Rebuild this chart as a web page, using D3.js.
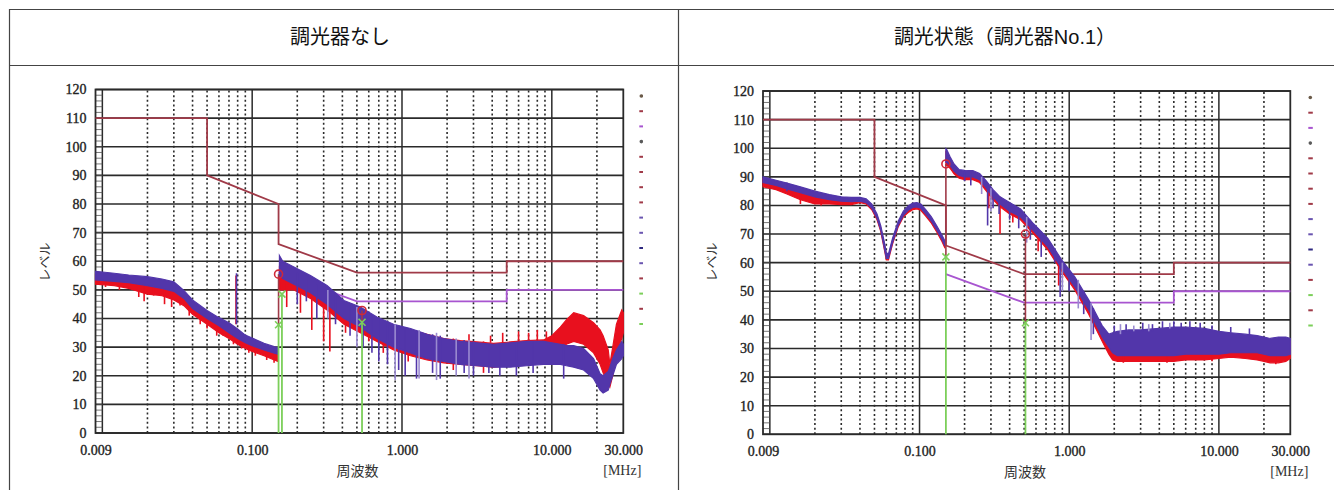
<!DOCTYPE html>
<html><head><meta charset="utf-8">
<script src="https://cdn.jsdelivr.net/npm/d3@7"></script>
<style>html,body{margin:0;padding:0;background:#fff;}svg{display:block;}</style>
</head><body>
<script>
// ---------- data ----------
const headerTitles = ["調光器なし", "調光状態（調光器No.1）"];
const yTickValues = [0,10,20,30,40,50,60,70,80,90,100,110,120];
const xTickValues = [0.009, 0.1, 1, 10, 30];
const xTickLabels = ["0.009", "0.100", "1.000", "10.000", "30.000"];
const xAxisTitle = "周波数";
const xUnit = "[MHz]";
const yAxisTitle = "レベル";

// limit lines (QP and AV)
const qpLimitF = [0.009, 0.05, 0.05, 0.15, 0.15, 0.5, 5, 5, 30];
const qpLimitV = [110, 110, 90, 80, 66, 56, 56, 60, 60];
const avLimitF = [0.15, 0.5, 5, 5, 30];
const avLimitV = [56, 46, 46, 50, 50];

// ---- left chart: 調光器なし ----
const L1_freq   = [0.009,0.012,0.015,0.02,0.025,0.03,0.035,0.04,0.05,0.06,0.07,0.08,0.09,0.1,0.12,0.148];
const L1_blueHi = [56.5,55.8,55.2,54.6,53.8,52.8,49.8,46.5,42.8,40.3,38.5,36.3,34.2,33.2,31.3,29.8];
const L1_blueLo = [53.5,53,52.5,51.5,50.5,49.5,47,43.5,40,37.5,35,33,31.5,30.5,29,27.5];
const L1_redHi  = [55.5,55,54.5,53.5,53,52,48.5,45.5,42,39.5,37.5,35.5,33.5,32.3,30.3,28.5];
const L1_redLo  = [52,51.5,50.5,48.5,48,46.5,44.5,41.5,38,35,33,31,29.5,28.5,27,25];

const L2_freq   = [0.152,0.16,0.19,0.245,0.316,0.41,0.527,0.68,0.88,1.14,1.47,1.9,2.45,3.16,4.08,5.27,6.8,8.8,10,11.4,12.5,14,16.3,19,21,22,23.8,24.4,25.5,27,29.3,30];
const L2_blueHi = [62,60,58,55,51.5,46.3,44,40.5,38,36.5,34.5,33,32,31.5,31,31.5,32,32,31.5,31,30.5,30.5,29.5,26,20.7,20,21.5,23,26,29,32,31];
const L2_blueLo = [55,54,52,49,45,40,37,33,30,28,26,25,24,23.5,23,23,23.5,24,24,24,23.5,23,22,19,15,14,15,17,20,24,26,27];
const L2_redHi  = [58,57,56,53,49,45,42,39,37.5,36,34.5,33,32.3,31.8,31.3,31.8,32.3,32.5,34,37,39.5,42,41,38.5,36,34,29,24,30,38,43,42];
const L2_redLo  = [50,50,50,47,43,38,35,32,29,27,25.5,24.5,24,23.5,23,23.5,24,25,26,29,31,32,31,28,24,21,17,16,20,28,33,35];

// spikes: [freq, from, to]
const L_redSpikes = [[0.0105,55,51],[0.013,54.5,50],[0.0175,53.5,47.5],[0.019,53,46],[0.022,52.5,48],[0.026,51.5,45],[0.029,51,44],[0.033,49.5,44.5],[0.038,46,41],[0.045,43,38],[0.05,41.5,36.5],[0.058,39,34],[0.064,37.5,34],[0.075,35,31],[0.078,38,55],[0.085,33.5,29.5],[0.095,32.5,28],[0.105,31.5,27],[0.125,30,25.5],[0.14,29,24.5],
  [0.17,57,44],[0.21,55,42],[0.25,53,36],[0.3,50,32],[0.33,48,28.5],[0.42,45,35],[0.6,41,32],[0.75,39,28],[1.1,36,25],[2.2,33,22],[3.5,32,21],[2.8,32,34.5],[3.9,31.5,34],[4.7,31.5,35],[6,32,35.5],[7,32,35],[8,32.5,36],[9.2,32.5,35.5]];
const L_blueSpikes = [[0.0786,38,55.8],[0.2,56,45],[0.23,55,46],[0.27,52,40],[0.36,49,38],[0.45,45,34],[0.55,43,30],[0.63,41,28],[0.7,40,25],[0.8,39,24],[0.95,37.5,22],[1.05,37,20],[1.25,36,19],[1.6,34.5,21],[1.8,34,19],[2.6,32.5,21],[3,32,20],[3.8,31,21],[4.5,31,20],[5.8,31.5,20],[7.5,32,21],[12,31,19]];
const L_lavSpikes = [[0.32,50,40],[0.5,44,30],[0.9,38,18.5],[1.3,36,19],[1.7,35,18.5],[2.3,33,20],[2.8,32.5,19]];
const L_qpMarks = [[0.150,55.5],[0.541,42.8]];
const L_avMarks = [[0.150,37.8],[0.158,48.5],[0.541,38.7]];

// ---- right chart: 調光状態（調光器No.1） ----
const R1_freq   = [0.009,0.011,0.013,0.016,0.02,0.025,0.03,0.035,0.04,0.044,0.048,0.052,0.055,0.058,0.06,0.062,0.066,0.072,0.078,0.084,0.09,0.096,0.102,0.11,0.12,0.13,0.14,0.148];
const R1_blueHi = [90,88.8,87.8,86.5,85,83.8,83,82.8,82.8,82.3,80.5,77,73,67.5,63.5,63,68.5,74.5,78,79.8,80.8,81,80.5,78.5,76,73,70,67.5];
const R1_blueLo = [88,87,85.8,84.5,83,82,81.5,81.3,81.5,81,79,75.5,71.5,65.5,61.5,61.5,67,73,76.5,78.3,79.3,79.5,79,77,74.5,71.5,68.5,65.8];
const R1_redHi  = [89.3,88,87,85.5,84,83,82.3,82,82,81.5,79.8,76.3,72.3,66.8,62.8,62.3,67.8,73.8,77.3,79,80,80.2,79.8,77.8,75.2,72.2,69.2,66.8];
const R1_redLo  = [86.5,85.5,84,82,80.5,80.5,80.3,80.3,81,80.5,78.5,75,71,65,61,61,66.5,72.5,76,77.5,78.5,78.8,78.3,76.3,73.8,70.8,67.8,65];

const R2_freq   = [0.15,0.152,0.16,0.17,0.184,0.2,0.227,0.252,0.28,0.31,0.345,0.4,0.473,0.58,0.72,0.89,1.09,1.35,1.66,1.84,1.95,2.1,2.5,3,4,5,6,8,10,12,15,18,20,22,25,28,30];
const R2_blueHi = [99.8,99.5,97,94.5,92.5,92.3,92.2,91.2,88.5,85.5,83,81,78.8,73.5,68.5,61,55,47,38,35,35.5,36,36.5,36.5,37,37.5,37.5,37,36,35.5,35,34.5,34,33.5,34,34,33.5];
const R2_blueLo = [95,95,94,92,90.5,90,90,89,86,83,80.5,78,76,71,65.5,58,51.5,43.5,34,30.5,28.5,27.5,27.5,27.5,27.5,27.5,28,28,28,28.5,28.5,28.5,28,27.5,27.5,27.5,28];
const R2_redHi  = [98.8,98.5,96,93.5,91.5,91.3,91.2,90.2,87.5,84.5,82,80,77.8,72.5,67.5,60,54,46,37,34,34.5,35,35.5,35.5,36,36.5,36.5,36,35,34.5,34,33.5,33,32.5,33,33,32.5];
const R2_redLo  = [94,94,93,91,89.5,89,89,88,85,82,79.5,77,75,70,64.5,57,50.5,42,32.5,28,26,25.5,25.5,25.5,25.5,25.5,26,26,26.5,27,26.5,26,25.5,25,25,25.5,26.5];

const R_redSpikes = [[0.016,85,80.5],[0.022,84,80],[0.028,83,80.5],[0.033,82.8,80.5],[0.29,87,79],[0.345,83,70],[0.42,80,74],[0.62,72,64],[0.85,62,52],[2.3,29,25],[4.5,28,25],[9,28,25.5],[24,27,24.5]];
const R_blueSpikes = [[0.013,88,85],[0.2,92,88.5],[0.22,92,87],[0.285,86,73],[0.31,84.5,79],[0.34,83,77],[0.4,80.5,75],[0.46,79,72],[0.55,75,68],[0.65,71,62],[0.8,65,60],[0.87,60.5,48],[1.0,58,50],[1.25,50,42],[1.45,44,35],
  [2.0,35,38],[2.4,36,38.5],[3.1,36,39],[3.6,36,38.5],[4.2,37,39.5],[5.0,37.5,39.5],[5.6,37.5,39],[6.4,37.5,39.5],[7.5,37,39],[9,36,38],[12,35.5,37.5],[16,35,37]];
const R_lavSpikes = [[0.26,90,84],[0.3,86,78],[0.52,76,67],[0.9,60,50],[1.15,54,44],[1.4,46,33],[2.2,35,38.5],[2.7,36,38],[3.4,36,38.5],[4.7,37,39]];
const R_qpMarks = [[0.150,94.5],[0.51,70]];
const R_avMarks = [[0.150,62],[0.51,39]];

// legend column swatches (kind, colour)
const legendKinds  = ["dot","dash","dash","dot","dash","dash","dash","dash","dash","dash","dash","dash","dash","dash","dash","dash"];
const legendColors = ["#6a5a48","#a03a48","#a855d0","#5a5a5a","#a03a48","#a03a48","#a03a48","#a03a48","#6a55b0","#6a55b0","#2e2880","#6a55b0","#a03a48","#7ccf5a","#a03a48","#7ccf5a"];

// ---------- drawing ----------
const W = 1334, H = 490;
const C = {red:"#e8101e", blue:"#5236aa", lav:"#9a8ad0", qp:"#a03a48", av:"#a855d0", green:"#7ccf5a", mark:"#d02838", grid:"#2a2a2a"};

const svg = d3.select("body").append("svg").attr("width", W).attr("height", H)
  .style("font-family", "'Liberation Sans','Noto Sans CJK JP',sans-serif");

// table
const tb = svg.append("g").attr("stroke", "#444").attr("stroke-width", 1.2).attr("fill", "none");
tb.append("line").attr("x1", 9).attr("x2", W).attr("y1", 9.5).attr("y2", 9.5);
tb.append("line").attr("x1", 9).attr("x2", W).attr("y1", 65.5).attr("y2", 65.5);
tb.append("line").attr("x1", 9.5).attr("x2", 9.5).attr("y1", 9).attr("y2", H);
tb.append("line").attr("x1", 678.5).attr("x2", 678.5).attr("y1", 9).attr("y2", H);
svg.selectAll("text.hdr").data(headerTitles).join("text").attr("class", "hdr")
  .attr("x", (d, i) => i === 0 ? 340 : 1005).attr("y", 44).attr("text-anchor", "middle")
  .attr("font-size", 20).attr("fill", "#111").text(d => d);

function zip(f, hi, lo) { return f.map((v, i) => ({f: v, hi: hi[i], lo: lo[i]})); }

function drawChart(cfg) {
  const x = d3.scaleLog().domain([0.009, 30]).range(cfg.xr);
  const y = d3.scaleLinear().domain([0, 120]).range(cfg.yr);
  const g = svg.append("g");
  if (cfg.clipX) {
    svg.append("clipPath").attr("id", cfg.id).append("rect").attr("x", 0).attr("y", 0).attr("width", cfg.clipX).attr("height", H);
    g.attr("clip-path", `url(#${cfg.id})`);
  }
  const [x0, x1] = cfg.xr, [yb, yt] = cfg.yr;

  // vertical grid
  const vlines = [];
  for (let n = -2; n <= 1; n++) for (let k = 1; k <= 9; k++) {
    const f = +(k * Math.pow(10, n)).toPrecision(3);
    if (f > 0.009 && f < 30) vlines.push({f, solid: k === 1});
  }
  g.selectAll("line.vg").data(vlines).join("line").attr("class", "vg")
    .attr("x1", d => x(d.f)).attr("x2", d => x(d.f)).attr("y1", yb).attr("y2", yt)
    .attr("stroke", C.grid).attr("stroke-width", d => d.solid ? 1.5 : 1.6)
    .attr("stroke-dasharray", d => d.solid ? null : "2,2.6");
  // horizontal grid
  g.selectAll("line.hg").data(yTickValues).join("line").attr("class", "hg")
    .attr("x1", x0).attr("x2", x1).attr("y1", d => y(d)).attr("y2", d => y(d))
    .attr("stroke", C.grid).attr("stroke-width", 1.6);
  // minor ruler ticks between 0.009 and 0.01
  g.selectAll("line.mt").data(d3.range(0, 121, 2)).join("line").attr("class", "mt")
    .attr("x1", x0).attr("x2", x(0.01)).attr("y1", d => y(d)).attr("y2", d => y(d))
    .attr("stroke", "#555").attr("stroke-width", 0.8);
  // frame
  g.append("rect").attr("x", x0).attr("y", yt).attr("width", x1 - x0).attr("height", yb - yt)
    .attr("fill", "none").attr("stroke", C.grid).attr("stroke-width", 1.8);

  // limit lines
  const lim = d3.line().x(d => x(d[0])).y(d => y(d[1]));
  g.append("path").attr("d", lim(qpLimitF.map((f, i) => [f, qpLimitV[i]])))
    .attr("fill", "none").attr("stroke", C.qp).attr("stroke-width", 1.8);
  g.append("path").attr("d", lim(avLimitF.map((f, i) => [f, avLimitV[i]])))
    .attr("fill", "none").attr("stroke", C.av).attr("stroke-width", 1.8);

  // traces
  const area = d3.area().x(d => x(d.f)).y0(d => y(d.lo)).y1(d => y(d.hi));
  const drawBand = (data, col) => {
    g.append("path").attr("d", area(data)).attr("fill", col).attr("stroke", col).attr("stroke-width", 1.2);
  };
  const drawSpikes = (data, col, w) => {
    g.append("g").selectAll("line").data(data).join("line")
      .attr("x1", d => x(d[0])).attr("x2", d => x(d[0])).attr("y1", d => y(d[1])).attr("y2", d => y(d[2]))
      .attr("stroke", col).attr("stroke-width", w);
  };
  cfg.segs.forEach(s => drawBand(zip(s.f, s.rh, s.rl), C.red));
  drawSpikes(cfg.redSpikes, C.red, 1.6);
  cfg.segs.forEach(s => drawBand(zip(s.f, s.bh, s.bl), C.blue));
  drawSpikes(cfg.lavSpikes, C.lav, 1.6);
  drawSpikes(cfg.blueSpikes, C.blue, 1.6);

  // measurement markers
  cfg.av.forEach(a => {
    g.append("line").attr("x1", x(a[0])).attr("x2", x(a[0])).attr("y1", y(0)).attr("y2", y(a[1]))
      .attr("stroke", C.green).attr("stroke-width", 1.8);
  });
  cfg.qp.forEach(q => {
    const lows = cfg.av.filter(a => Math.abs(a[0] - q[0]) < 0.002).map(a => a[1]);
    const lo = d3.min(lows);
    g.append("line").attr("x1", x(q[0])).attr("x2", x(q[0])).attr("y1", y(q[1])).attr("y2", y(lo))
      .attr("stroke", C.qp).attr("stroke-width", 1.6);
  });
  cfg.av.forEach(a => {
    const cx = x(a[0]), cy = y(a[1]);
    g.append("path").attr("d", `M${cx-3.5},${cy-3.5}L${cx+3.5},${cy+3.5}M${cx-3.5},${cy+3.5}L${cx+3.5},${cy-3.5}`)
      .attr("stroke", C.green).attr("stroke-width", 1.6);
  });
  cfg.qp.forEach(q => {
    g.append("circle").attr("cx", x(q[0])).attr("cy", y(q[1])).attr("r", 4)
      .attr("fill", "none").attr("stroke", C.mark).attr("stroke-width", 1.6);
  });

  // axes labels
  const tickFont = "'Liberation Serif','DejaVu Serif',serif";
  const ya = g.append("g").attr("transform", `translate(${x0},0)`)
    .call(d3.axisLeft(y).tickValues(yTickValues).tickSize(0).tickPadding(9).tickFormat(d3.format("d")));
  ya.select(".domain").remove();
  ya.selectAll("text").attr("font-family", tickFont).attr("font-size", 14).attr("fill", "#222")
    .attr("stroke", "#222").attr("stroke-width", 0.35);
  const xa = g.append("g").attr("transform", `translate(0,${yb})`)
    .call(d3.axisBottom(x).tickValues(xTickValues).tickSize(0).tickPadding(12)
      .tickFormat((d, i) => xTickLabels[i]));
  xa.select(".domain").remove();
  xa.selectAll("text").attr("font-family", tickFont).attr("font-size", 14).attr("fill", "#222")
    .attr("stroke", "#222").attr("stroke-width", 0.35);

  g.append("text").attr("x", x0 + 262).attr("y", yb + 43).attr("text-anchor", "middle")
    .attr("font-family", "'Noto Sans CJK JP',sans-serif").attr("font-size", 14).attr("fill", "#333").text(xAxisTitle);
  g.append("text").attr("x", x(30) - 1).attr("y", yb + 42).attr("text-anchor", "middle")
    .attr("font-family", tickFont).attr("font-size", 14).attr("fill", "#333").text(xUnit);
  g.append("text").attr("transform", `translate(${x0 - 47},262) rotate(-90)`).attr("text-anchor", "middle")
    .attr("font-family", "'Noto Sans CJK JP',sans-serif").attr("font-size", 13).attr("fill", "#333").text(yAxisTitle);

  // legend column
  const lx = x(30) + cfg.legDx;
  g.selectAll("g.leg").data(legendKinds).join("g").attr("class", "leg")
    .attr("transform", (d, i) => `translate(${lx},${yt + 6.5 + i * 15.2})`)
    .each(function (d, i) {
      const s = d3.select(this);
      if (d === "dot") s.append("circle").attr("r", 1.8).attr("fill", legendColors[i]);
      else s.append("rect").attr("x", -2).attr("y", -1).attr("width", 4.5).attr("height", 2).attr("fill", legendColors[i]);
    });
}

drawChart({
  id: "clipL", clipX: 643, xr: [95.5, 623.3], yr: [433, 89.5], legDx: 18,
  segs: [{f: L1_freq, bh: L1_blueHi, bl: L1_blueLo, rh: L1_redHi, rl: L1_redLo},
         {f: L2_freq, bh: L2_blueHi, bl: L2_blueLo, rh: L2_redHi, rl: L2_redLo}],
  redSpikes: L_redSpikes, blueSpikes: L_blueSpikes, lavSpikes: L_lavSpikes,
  qp: L_qpMarks, av: L_avMarks
});
drawChart({
  id: "clipR", clipX: null, xr: [763, 1290.3], yr: [434.3, 91], legDx: 20,
  segs: [{f: R1_freq, bh: R1_blueHi, bl: R1_blueLo, rh: R1_redHi, rl: R1_redLo},
         {f: R2_freq, bh: R2_blueHi, bl: R2_blueLo, rh: R2_redHi, rl: R2_redLo}],
  redSpikes: R_redSpikes, blueSpikes: R_blueSpikes, lavSpikes: R_lavSpikes,
  qp: R_qpMarks, av: R_avMarks
});
</script>
</body></html>
